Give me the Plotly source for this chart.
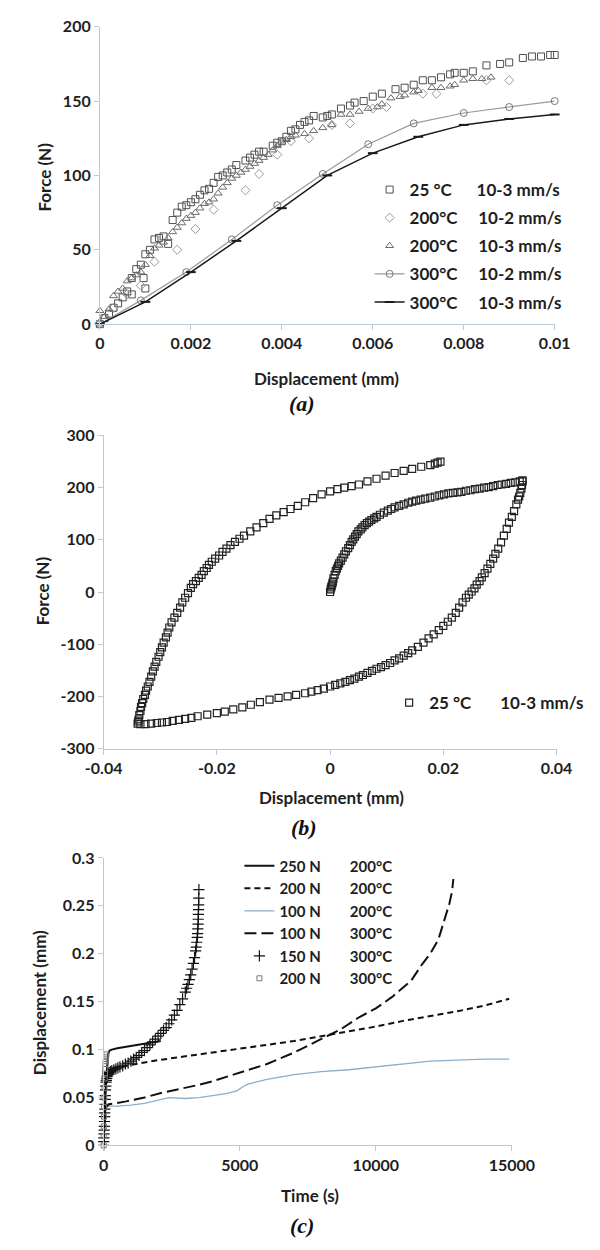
import plotly.graph_objects as go

# ---------------- Panel (a) data ----------------
a_sq25_x = [0, 0.0001, 0.0002, 0.0003, 0.0004, 0.0005, 0.0006, 0.0007, 0.0007, 0.0008, 0.0009, 0.00096,
            0.001, 0.001, 0.0011, 0.0012, 0.0013, 0.0014, 0.0015, 0.0016, 0.0017, 0.0018, 0.0019, 0.002,
            0.0021, 0.0022, 0.0023, 0.0024, 0.0025, 0.0026, 0.0027, 0.0028, 0.0029, 0.003, 0.0032,
            0.0033, 0.0034, 0.0035, 0.0036, 0.0038, 0.0039, 0.004, 0.0041, 0.0042, 0.0043, 0.0044,
            0.0045, 0.0046, 0.0047, 0.0049, 0.005, 0.0051, 0.0053, 0.0055, 0.0056, 0.0058, 0.006,
            0.0062, 0.0065, 0.0067, 0.0069, 0.0071, 0.0073, 0.0075, 0.0077, 0.0078, 0.008, 0.0082,
            0.0085, 0.0088, 0.009, 0.0093, 0.0095, 0.0097, 0.0099, 0.01]
a_sq25_y = [0, 4, 7, 11, 14, 18, 22, 20, 31, 37, 40, 31, 24, 47, 50, 57, 58, 59, 54, 70, 75, 79, 80, 82,
            84, 87, 90, 91, 95, 99, 100, 102, 104, 107, 110, 112, 114, 116, 116, 120, 122, 123, 126, 130,
            131, 134, 136, 137, 140, 139, 140, 141, 145, 147, 149, 150, 153, 155, 158, 159, 161, 164,
            164, 166, 168, 169, 169, 170, 174, 175, 176, 179, 180, 180, 181, 181]

a_dia200_x = [0, 0.0003, 0.0006, 0.0009, 0.0012, 0.0017, 0.0021, 0.0025, 0.0032, 0.0035, 0.0039, 0.0042,
              0.0046, 0.0051, 0.0055, 0.006, 0.0063, 0.0071, 0.0074, 0.0085, 0.009]
a_dia200_y = [1, 11, 20, 26, 42, 50, 64, 77, 90, 101, 114, 123, 125, 134, 135, 145, 146, 155, 155, 164, 164]

a_tri200_x = [0, 0.0001, 0.0002, 0.0003, 0.0004, 0.0005, 0.0006, 0.0007, 0.0008, 0.0009, 0.001, 0.0011,
              0.0012, 0.0013, 0.0014, 0.0015, 0.0016, 0.0017, 0.0018, 0.0019, 0.002, 0.0021, 0.0022,
              0.0023, 0.0024, 0.0025, 0.0026, 0.0027, 0.0028, 0.0029, 0.003, 0.0031, 0.0032, 0.0033,
              0.0034, 0.0035, 0.0036, 0.0037, 0.0038, 0.0039, 0.004, 0.0041, 0.0042, 0.0043, 0.0045,
              0.0047, 0.0049, 0.0051, 0.0053, 0.0055, 0.0057, 0.0059, 0.0061, 0.0062, 0.0064, 0.0066,
              0.0067, 0.0069, 0.007, 0.0073, 0.0075, 0.0077, 0.0078, 0.008, 0.0082, 0.0084, 0.0086]
a_tri200_y = [9, 5, 10, 19, 22, 24, 29, 31, 33, 35, 40, 46, 51, 53, 55, 58, 62, 65, 68, 71, 73, 75, 78, 81,
              82, 84, 88, 92, 95, 98, 100, 102, 104, 106, 108, 110, 112, 114, 117, 120, 123, 124, 126,
              127, 128, 130, 132, 134, 141, 141, 143, 145, 146, 148, 152, 153, 154, 156, 157, 159, 159,
              160, 161, 164, 165, 165, 166]

a_c300_x = [0, 0.0009, 0.0019, 0.0029, 0.0039, 0.0049, 0.0059, 0.0069, 0.008, 0.009, 0.01]
a_c300_y = [0, 16, 35, 57, 80, 101, 121, 135, 142, 146, 150]

a_l300_x = [0, 0.001, 0.002, 0.003, 0.004, 0.005, 0.006, 0.007, 0.008, 0.009, 0.01]
a_l300_y = [0, 15, 35, 56, 78, 100, 115, 126, 134, 138, 141]

NB = "\u00a0"
a_names = ["25 °C" + NB * 6 + "10-3 mm/s",
           "200°C" + NB * 5 + "10-2 mm/s",
           "200°C" + NB * 5 + "10-3 mm/s",
           "300°C" + NB * 5 + "10-2 mm/s",
           "300°C" + NB * 5 + "10-3 mm/s"]

# ---------------- Panel (b) data (hysteresis loop, 25 °C) ----------------
b_load_x = [0, 0.0001, 0.0002, 0.0003, 0.0004, 0.0005, 0.0006, 0.0008, 0.001, 0.0012, 0.0014, 0.0016,
            0.0019, 0.0022, 0.0025, 0.0028, 0.0032, 0.0035, 0.0038, 0.0041, 0.0044, 0.0047, 0.005,
            0.0054, 0.0057, 0.0061, 0.0065, 0.0069, 0.0073, 0.0078, 0.0082, 0.0088, 0.0095, 0.0102,
            0.0108, 0.0114, 0.0122, 0.013, 0.0138, 0.0145, 0.0152, 0.016, 0.0168, 0.0177, 0.0185,
            0.0193, 0.0201, 0.0209, 0.0217, 0.0225, 0.0232, 0.024, 0.0248, 0.0256, 0.0264, 0.0272,
            0.028, 0.0288, 0.0296, 0.0303, 0.0311, 0.0319, 0.0327, 0.0335, 0.034]
b_load_y = [0, 5, 9, 12, 16, 20, 26, 33, 40, 45, 50, 55, 60, 66, 72, 78, 84, 90, 96, 101, 106, 111, 116,
            120, 124, 128, 132, 135, 138, 141, 144, 148, 152, 156, 159, 162, 165, 168, 171, 173, 175,
            177, 179, 181, 183, 185, 187, 189, 190, 191, 192, 194, 195, 197, 198, 200, 201, 203, 205,
            206, 207, 209, 210, 212, 214]

b_unload_x = [0.034, 0.0339, 0.0338, 0.0336, 0.0334, 0.0332, 0.0329, 0.0325, 0.0321, 0.0316, 0.0312,
              0.0307, 0.0302, 0.0297, 0.0292, 0.0288, 0.0283, 0.0278, 0.0273, 0.0268, 0.0264, 0.0259,
              0.0255, 0.025, 0.0245, 0.024, 0.0234, 0.0228, 0.0222, 0.0215, 0.0208, 0.02, 0.0192,
              0.0183, 0.0174, 0.0165, 0.0155, 0.0145, 0.0138, 0.013, 0.0122, 0.0114, 0.0106, 0.0098,
              0.009, 0.0082, 0.0074, 0.0066, 0.0058, 0.0051, 0.0043, 0.0035, 0.0027, 0.0018, 0.0009, 0,
              -0.0011, -0.0022, -0.0033, -0.0044, -0.006, -0.0075, -0.0091, -0.0107, -0.0124, -0.014,
              -0.0155, -0.0171, -0.0186, -0.02, -0.0217, -0.0234, -0.0245, -0.0256, -0.0267, -0.0278,
              -0.0288, -0.0297, -0.0306, -0.0316, -0.0326, -0.0335, -0.034]
b_unload_y = [212, 205, 198, 190, 183, 177, 168, 155, 144, 133, 121, 108, 95, 83, 73, 64, 54, 45, 36, 28,
              21, 14, 7, 1, -5, -11, -20, -30, -40, -49, -57, -65, -73, -81, -89, -97, -105, -112, -117,
              -122, -127, -131, -136, -140, -144, -147, -151, -155, -159, -162, -166, -169, -172, -175,
              -178, -181, -185, -188, -191, -194, -197, -200, -203, -206, -211, -216, -221, -225, -229,
              -232, -235, -238, -241, -243, -245, -247, -249, -250, -251, -252, -253, -253, -252]

b_reload_x = [-0.0339, -0.0338, -0.0337, -0.0335, -0.0334, -0.0332, -0.033, -0.0327, -0.0325, -0.0322,
              -0.0319, -0.0316, -0.0313, -0.031, -0.0307, -0.0303, -0.03, -0.0297, -0.0294, -0.029,
              -0.0287, -0.0284, -0.028, -0.0275, -0.027, -0.0265, -0.0261, -0.0256, -0.0251, -0.0246,
              -0.0242, -0.0237, -0.0232, -0.0227, -0.0223, -0.0218, -0.0214, -0.0209, -0.0203, -0.0196,
              -0.019, -0.0183, -0.0176, -0.0168, -0.016, -0.0152, -0.0141, -0.013, -0.0118, -0.0107,
              -0.0095, -0.0082, -0.007, -0.0057, -0.0044, -0.003, -0.0015, 0, 0.0013, 0.0025, 0.0038,
              0.0051, 0.0066, 0.0082, 0.0098, 0.0114, 0.013, 0.0145, 0.0161, 0.0177, 0.0185, 0.019, 0.0195]
b_reload_y = [-248, -244, -236, -228, -220, -213, -205, -197, -189, -181, -172, -162, -152, -143, -134,
              -124, -115, -106, -97, -87, -78, -68, -58, -49, -40, -30, -20, -11, -2, 8, 15, 21, 27, 33,
              40, 46, 52, 58, 64, 70, 77, 83, 90, 96, 102, 108, 116, 124, 132, 140, 147, 153, 159, 165,
              172, 180, 187, 193, 197, 200, 203, 206, 212, 217, 223, 228, 232, 236, 240, 243, 246, 248, 250]

b_name = "25 °C" + NB * 7 + "10-3 mm/s"

# ---------------- Panel (c) data (creep) ----------------
c250_t = [0, 20, 50, 80, 110, 140, 170, 220, 300, 500, 1000, 1500, 2100]
c250_d = [0, 0.02, 0.04, 0.06, 0.075, 0.088, 0.096, 0.099, 0.1, 0.1015, 0.104, 0.106, 0.109]

c200a_t = [0, 30, 60, 100, 200, 400, 1000, 2000, 3000, 4000, 5000, 6000, 7000, 8000, 9000, 10000, 11000,
           12000, 13000, 14000, 14900]
c200a_d = [0, 0.04, 0.065, 0.076, 0.079, 0.081, 0.084, 0.089, 0.093, 0.097, 0.101, 0.105, 0.109, 0.114,
           0.119, 0.124, 0.13, 0.135, 0.14, 0.146, 0.153]

c100a_t = [0, 30, 80, 150, 500, 1000, 1500, 2000, 2400, 3000, 3500, 4000, 4500, 4900, 5100, 5300, 6000,
           7000, 8000, 9000, 10000, 11000, 12000, 13000, 14000, 14900]
c100a_d = [0, 0.03, 0.038, 0.041, 0.041, 0.042, 0.044, 0.047, 0.05, 0.049, 0.05, 0.052, 0.054, 0.057,
           0.061, 0.064, 0.069, 0.074, 0.077, 0.079, 0.082, 0.085, 0.088, 0.089, 0.09, 0.09]

c100b_t = [0, 30, 80, 200, 830, 1500, 2140, 3000, 3460, 4000, 4770, 5500, 6000, 7000, 8000, 8700, 9400,
           10000, 10600, 11300, 11700, 12000, 12300, 12500, 12700, 12800, 12850]
c100b_d = [0, 0.03, 0.04, 0.043, 0.046, 0.05, 0.055, 0.06, 0.063, 0.067, 0.074, 0.081, 0.085, 0.097,
           0.111, 0.121, 0.134, 0.143, 0.155, 0.172, 0.189, 0.2, 0.215, 0.233, 0.252, 0.265, 0.278]

c150_t = [0, 5, 10, 15, 20, 25, 30, 35, 40, 45, 50, 55, 60, 70, 80, 90, 100, 115, 130, 150, 175, 200, 250,
          300, 375, 450, 525, 600, 700, 800, 900, 1000, 1100, 1200, 1300, 1400, 1500, 1600, 1700, 1800,
          1900, 2000, 2100, 2200, 2300, 2400, 2500, 2600, 2700, 2800, 2900, 3000, 3050, 3100, 3150,
          3200, 3250, 3300, 3340, 3380, 3400, 3420, 3440, 3450, 3460, 3470, 3475, 3480, 3485, 3490,
          3495, 3500]
c150_d = [0, 0.004, 0.008, 0.012, 0.016, 0.02, 0.025, 0.03, 0.034, 0.038, 0.043, 0.048, 0.052, 0.058,
          0.062, 0.066, 0.068, 0.07, 0.072, 0.074, 0.075, 0.076, 0.077, 0.078, 0.079, 0.08, 0.081, 0.082,
          0.083, 0.085, 0.086, 0.088, 0.09, 0.092, 0.094, 0.097, 0.099, 0.102, 0.105, 0.108, 0.111,
          0.114, 0.117, 0.12, 0.123, 0.127, 0.131, 0.136, 0.141, 0.147, 0.153, 0.16, 0.164, 0.168,
          0.173, 0.178, 0.184, 0.19, 0.196, 0.203, 0.207, 0.212, 0.217, 0.221, 0.226, 0.231, 0.236,
          0.241, 0.246, 0.251, 0.258, 0.267]

c200b_t = [0, 5, 10, 15, 20, 25, 30, 40, 50, 60, 70, 80, 90, 100]
c200b_d = [0, 0.01, 0.02, 0.03, 0.04, 0.05, 0.06, 0.07, 0.075, 0.08, 0.085, 0.088, 0.092, 0.095]

c_names = ["250 N" + NB * 8 + "200°C",
           "200 N" + NB * 8 + "200°C",
           "100 N" + NB * 8 + "200°C",
           "100 N" + NB * 8 + "300°C",
           "150 N" + NB * 8 + "300°C",
           "200 N" + NB * 8 + "300°C"]

# ---------------- styling ----------------
W, H = 600, 1250
FONT = "Lato"
AXC = "#b5cadb"
TXT = "#1e1e1e"


def px(v):
    return v / W


def py(v):
    return 1 - v / H


fig = go.Figure()

# Panel a traces
fig.add_trace(go.Scatter(x=a_sq25_x, y=a_sq25_y, mode="markers", name=a_names[0], legend="legend",
                         legendgroup="a1", cliponaxis=False,
                         marker=dict(symbol="square-open", size=7, color="#505050", line=dict(width=1)),
                         xaxis="x", yaxis="y"))
fig.add_trace(go.Scatter(x=a_dia200_x, y=a_dia200_y, mode="markers", name=a_names[1], legend="legend",
                         legendgroup="a2", cliponaxis=False,
                         marker=dict(symbol="diamond-open", size=7, color="#9a9a9a", line=dict(width=1)),
                         xaxis="x", yaxis="y"))
fig.add_trace(go.Scatter(x=a_tri200_x, y=a_tri200_y, mode="markers", name=a_names[2], legend="legend",
                         legendgroup="a3", cliponaxis=False,
                         marker=dict(symbol="triangle-up-open", size=7, color="#6a6a6a", line=dict(width=1)),
                         xaxis="x", yaxis="y"))
fig.add_trace(go.Scatter(x=a_c300_x, y=a_c300_y, mode="lines+markers", name=a_names[3], legend="legend",
                         legendgroup="a4", cliponaxis=False,
                         line=dict(color="#9a9a9a", width=1.2),
                         marker=dict(symbol="circle-open", size=7, color="#777777", line=dict(width=1)),
                         xaxis="x", yaxis="y"))
fig.add_trace(go.Scatter(x=a_l300_x, y=a_l300_y, mode="lines+markers", name=a_names[4], legend="legend",
                         legendgroup="a5", cliponaxis=False,
                         line=dict(color="#1a1a1a", width=1.5),
                         marker=dict(symbol="line-ew-open", size=7, color="#1a1a1a", line=dict(width=2)),
                         xaxis="x", yaxis="y"))

# Panel b trace
fig.add_trace(go.Scatter(x=b_load_x + b_unload_x + b_reload_x, y=b_load_y + b_unload_y + b_reload_y,
                         mode="markers", name=b_name, legend="legend2", cliponaxis=False,
                         marker=dict(symbol="square-open", size=7, color="#222222", line=dict(width=1.2)),
                         xaxis="x2", yaxis="y2"))

# Panel c traces
fig.add_trace(go.Scatter(x=c250_t, y=c250_d, mode="lines", name=c_names[0], legend="legend3",
                         line=dict(color="#111111", width=2), xaxis="x3", yaxis="y3", cliponaxis=False))
fig.add_trace(go.Scatter(x=c200a_t, y=c200a_d, mode="lines", name=c_names[1], legend="legend3",
                         line=dict(color="#111111", width=2, dash="6px,4px"), xaxis="x3", yaxis="y3",
                         cliponaxis=False))
fig.add_trace(go.Scatter(x=c100a_t, y=c100a_d, mode="lines", name=c_names[2], legend="legend3",
                         line=dict(color="#8aaec8", width=1.3), xaxis="x3", yaxis="y3", cliponaxis=False))
fig.add_trace(go.Scatter(x=c100b_t, y=c100b_d, mode="lines", name=c_names[3], legend="legend3",
                         line=dict(color="#111111", width=2, dash="12px,5px"), xaxis="x3", yaxis="y3",
                         cliponaxis=False))
fig.add_trace(go.Scatter(x=c150_t, y=c150_d, mode="markers", name=c_names[4], legend="legend3",
                         marker=dict(symbol="cross-thin-open", size=8, color="#111111", line=dict(width=1.2)),
                         xaxis="x3", yaxis="y3", cliponaxis=False))
fig.add_trace(go.Scatter(x=c200b_t, y=c200b_d, mode="markers", name=c_names[5], legend="legend3",
                         marker=dict(symbol="square-open", size=5, color="#777777", line=dict(width=1)),
                         xaxis="x3", yaxis="y3", cliponaxis=False))

tickfont = dict(family=FONT, size=16, color=TXT, weight="bold")
axis_common = dict(showline=True, linecolor=AXC, linewidth=1, ticks="outside", ticklen=5,
                   tickcolor=AXC, tickwidth=1, showgrid=False, zeroline=False, tickfont=tickfont)

legfont17 = dict(family=FONT, size=17, color=TXT, weight="bold")
legfont15 = dict(family=FONT, size=15, color=TXT, weight="bold")

fig.update_layout(
    width=W, height=H,
    margin=dict(l=0, r=0, t=0, b=0),
    paper_bgcolor="white", plot_bgcolor="white",
    font=dict(family=FONT, color=TXT),
    xaxis=dict(domain=[px(87), px(576)], range=[0, 0.01], dtick=0.002, tick0=0, anchor="y", **axis_common),
    yaxis=dict(domain=[py(319), py(17)], range=[0, 200], dtick=50, anchor="x", **axis_common),
    xaxis2=dict(domain=[px(91), px(578)], range=[-0.04, 0.04], anchor="y2",
                tickvals=[-0.04, -0.02, 0, 0.02, 0.04], ticktext=["-0.04", "-0.02", "0", "0.02", "0.04"],
                **axis_common),
    yaxis2=dict(domain=[py(750), py(432)], range=[-300, 300], anchor="x2",
                tickvals=[-300, -200, -100, 0, 100, 200, 300],
                ticktext=["-300", "-200", "-100", "0", "100", "200", "300"], **axis_common),
    xaxis3=dict(domain=[px(91), px(530)], range=[0, 15000], dtick=5000, tickformat="d", anchor="y3",
                **axis_common),
    yaxis3=dict(domain=[py(1153), py(861)], range=[0, 0.3], dtick=0.05, anchor="x3", **axis_common),
    legend=dict(x=px(377), y=py(164.5), xanchor="left", yanchor="top", bgcolor="rgba(0,0,0,0)",
                font=legfont17, tracegroupgap=3, itemwidth=30),
    legend2=dict(x=px(398), y=py(685.5), xanchor="left", yanchor="top", bgcolor="rgba(0,0,0,0)",
                 font=legfont17, itemwidth=30),
    legend3=dict(x=px(237), y=py(852.5), xanchor="left", yanchor="top", bgcolor="rgba(0,0,0,0)",
                 font=legfont15, itemwidth=30),
    showlegend=True,
)

title_font = dict(family=FONT, size=17, color=TXT, weight="bold")
label_font = dict(family="Liberation Serif", size=22, color="#111111", weight="bold", style="italic")

annotations = [
    dict(text="Displacement (mm)", x=px(331), y=py(374), font=title_font),
    dict(text="Force (N)", x=px(27), y=py(170), font=title_font, textangle=-90),
    dict(text="(a)", x=px(304), y=py(400), font=label_font),
    dict(text="Displacement (mm)", x=px(336), y=py(800), font=title_font),
    dict(text="Force (N)", x=px(25), y=py(590), font=title_font, textangle=-90),
    dict(text="(b)", x=px(306), y=py(830), font=label_font),
    dict(text="Time (s)", x=px(313), y=py(1204), font=title_font),
    dict(text="Displacement (mm)", x=px(22), y=py(1008), font=title_font, textangle=-90),
    dict(text="(c)", x=px(304), y=py(1234), font=label_font),
]
for a in annotations:
    a.update(xref="paper", yref="paper", showarrow=False, xanchor="center", yanchor="middle")
fig.update_layout(annotations=annotations)

fig.write_html("out.html", config={"displayModeBar": False},
               post_script="document.body.style.margin='0';")
